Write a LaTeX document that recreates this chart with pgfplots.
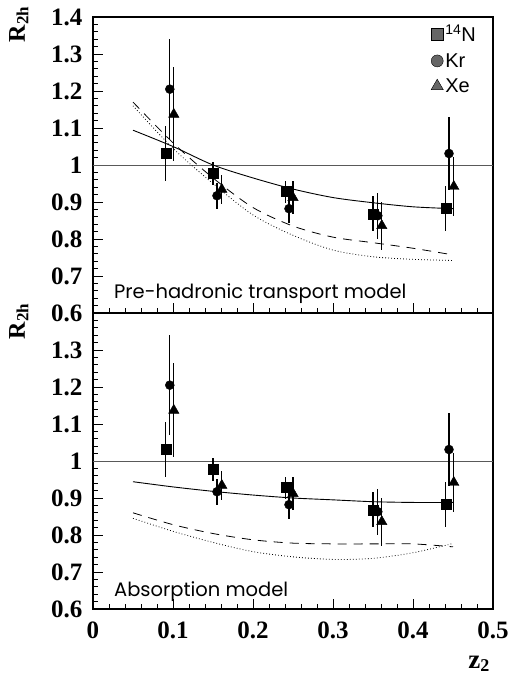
\documentclass[border=0pt]{standalone}
\usepackage{fontspec}
\setmainfont{Liberation Serif}
\newfontfamily\helv{Liberation Sans}
\newfontfamily\geom{Poppins}
\usepackage{pgfplots}
\pgfplotsset{compat=1.18}

% measured values
\pgfplotstableread{
x y e
0.091 1.031 0.075
0.150 0.977 0.030
0.241 0.928 0.030
0.350 0.868 0.047
0.441 0.882 0.060
}\dataN
\pgfplotstableread{
x y e
0.096 1.205 0.135
0.155 0.917 0.035
0.245 0.882 0.040
0.356 0.863 0.062
0.445 1.031 0.098
}\dataKr
\pgfplotstableread{
x y e
0.101 1.137 0.127
0.161 0.934 0.040
0.250 0.912 0.045
0.361 0.836 0.065
0.451 0.942 0.080
}\dataXe

\pgfplotsset{
  panel/.style={
    scale only axis, width=400pt, height=296pt,
    xmin=0, xmax=0.5, ymin=0.6, ymax=1.4,
    xtick={0,0.1,0.2,0.3,0.4,0.5},
    ytick={0.6,0.7,0.8,0.9,1,1.1,1.2,1.3,1.4},
    minor x tick num=4, minor y tick num=4,
    tick align=inside, xtick pos=left, ytick pos=left,
    major tick length=10pt, minor tick length=5pt,
    axis line style={line width=1.2pt},
    tick style={line width=0.8pt, black},
    ticklabel style={font=\bfseries\fontsize{25}{25}\selectfont},
    yticklabel style={xshift=-7pt},
    xticklabel style={yshift=-9pt},
    clip=false,
  },
  pts/.style={only marks, black, forget plot,
    error bars/y dir=both, error bars/y explicit, error bars/error mark=none,
    error bars/error bar style={line width=1.3pt}},
  modelsolid/.style={black, line width=0.9pt, smooth, forget plot},
  modeldash/.style={black, line width=0.8pt, smooth, dash pattern=on 9pt off 7pt, forget plot},
  modeldot/.style={black, line width=0.8pt, smooth, dash pattern=on 0.8pt off 2.2pt, forget plot},
}

\newcommand{\rlabel}{\bfseries\fontsize{24}{24}\selectfont R\raisebox{-0.3ex}{\fontsize{17}{17}\selectfont 2h}}

\begin{document}
\begin{tikzpicture}
% ---------- bottom panel: absorption model
\begin{axis}[panel, at={(0,0)}, anchor=south west,
  xticklabels={0,0.1,0.2,0.3,0.4,0.5},
  yticklabels={0.6,0.7,0.8,0.9,1,1.1,1.2,1.3,{}},
]
\addplot[gray!70!black, line width=0.8pt, forget plot] coordinates {(0,1) (0.5,1)};
\addplot[modelsolid] coordinates {(0.05,0.944) (0.1,0.930) (0.15,0.918) (0.2,0.908) (0.25,0.900) (0.3,0.895) (0.35,0.890) (0.4,0.888) (0.45,0.888)};
\addplot[modeldash] coordinates {(0.05,0.860) (0.1,0.828) (0.15,0.804) (0.2,0.787) (0.25,0.778) (0.3,0.776) (0.35,0.776) (0.4,0.776) (0.45,0.768)};
\addplot[modeldot] coordinates {(0.05,0.845) (0.1,0.810) (0.15,0.780) (0.2,0.755) (0.25,0.741) (0.3,0.734) (0.35,0.737) (0.4,0.752) (0.45,0.777)};
\addplot[pts, mark=square*, mark size=5pt] table[x=x, y=y, y error=e] {\dataN};
\addplot[pts, mark=*, mark size=4.5pt] table[x=x, y=y, y error=e] {\dataKr};
\addplot[pts, mark=triangle*, mark size=6pt] table[x=x, y=y, y error=e] {\dataXe};
\node[anchor=base west, font=\geom\fontsize{19.5}{19.5}\selectfont] at (axis cs:0.022,0.635) {Absorption model};
\node[rotate=90, anchor=base west] at (axis cs:-0.085,1.32) {\rlabel};
\node[anchor=base east, yshift=-59pt, font=\bfseries\fontsize{27}{27}\selectfont] at (rel axis cs:1,0) {z\raisebox{-0.3ex}{\fontsize{18}{18}\selectfont 2}};
\end{axis}
% ---------- top panel: pre-hadronic transport model
\begin{axis}[panel, at={(0,296pt)}, anchor=south west,
  xticklabels={},
  yticklabels={0.6,0.7,0.8,0.9,1,1.1,1.2,1.3,1.4},
  legend style={at={(rel axis cs:0.965,0.985)}, anchor=north east, draw=none, fill=none,
    font=\helv\fontsize{20}{20}\selectfont, row sep=6pt, inner sep=1pt},
  legend cell align=left,
]
\addlegendimage{only marks, mark=square*, mark size=6pt, mark options={fill=black!60, draw=black}}
\addlegendentry{\textsuperscript{14}N}
\addlegendimage{only marks, mark=*, mark size=6pt, mark options={fill=black!60, draw=black}}
\addlegendentry{Kr}
\addlegendimage{only marks, mark=triangle*, mark size=7pt, mark options={fill=black!60, draw=black}}
\addlegendentry{Xe}
\addplot[gray!70!black, line width=0.8pt, forget plot] coordinates {(0,1) (0.5,1)};
\addplot[modelsolid] coordinates {(0.05,1.094) (0.1,1.050) (0.15,1.000) (0.2,0.965) (0.25,0.935) (0.3,0.912) (0.35,0.898) (0.4,0.887) (0.45,0.882)};
\addplot[modeldash] coordinates {(0.05,1.170) (0.1,1.060) (0.15,0.965) (0.2,0.885) (0.25,0.835) (0.3,0.805) (0.35,0.790) (0.4,0.775) (0.45,0.757)};
\addplot[modeldot] coordinates {(0.05,1.160) (0.1,1.045) (0.15,0.950) (0.2,0.865) (0.25,0.810) (0.3,0.770) (0.35,0.752) (0.4,0.745) (0.45,0.742)};
\addplot[pts, mark=square*, mark size=5pt] table[x=x, y=y, y error=e] {\dataN};
\addplot[pts, mark=*, mark size=4.5pt] table[x=x, y=y, y error=e] {\dataKr};
\addplot[pts, mark=triangle*, mark size=6pt] table[x=x, y=y, y error=e] {\dataXe};
\node[anchor=base west, font=\geom\fontsize{19.5}{19.5}\selectfont] at (axis cs:0.022,0.638) {Pre-hadronic transport model};
\node[rotate=90, anchor=base west] at (axis cs:-0.085,1.322) {\rlabel};
\end{axis}
\pgfresetboundingbox
\path (-93pt,-68pt) rectangle (417pt,609pt);
\end{tikzpicture}
\end{document}
